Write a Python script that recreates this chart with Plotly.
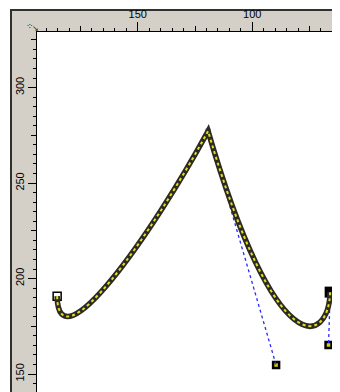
import plotly.graph_objects as go

# ---- data (document units as read from the rulers) ----
node_x = [185.2, 119.3, 66.0]
node_y = [190.8, 277.2, 192.9]
handle_out_x = [184.8, 89.6]      # outgoing handle of node i (segment i)
handle_out_y = [153.1, 154.7]
handle_in_x = [143.8, 66.7]       # incoming handle of node i+1 (segment i)
handle_in_y = [223.3, 165.2]
x_ticks_major = [150, 100]
y_ticks_major = [150, 200, 250, 300]

X_RANGE = [194.0, 61.7]
Y_RANGE = [140.6, 329.1]

# page body has an 8px margin; the figure is sized so the canvas lands where it should
OFF = 8
W, H = 340 - OFF, 392 - OFF
ML, MT = 37 - OFF, 32 - OFF
PW, PH = W - ML, H - MT


def xp(px):  # px in window coordinates -> paper
    return (px - OFF - ML) / PW


def yp(py):
    return (H - (py - OFF)) / PH


path = f"M {node_x[0]},{node_y[0]}"
for i in range(len(node_x) - 1):
    path += (f" C {handle_out_x[i]},{handle_out_y[i]} {handle_in_x[i]},{handle_in_y[i]}"
             f" {node_x[i+1]},{node_y[i+1]}")

GRAY = "#d4d0c8"
DARK = "#303030"

shapes = [
    # ruler backgrounds
    dict(type="rect", xref="paper", yref="paper", x0=xp(11), x1=xp(340), y0=yp(10), y1=yp(32),
         fillcolor=GRAY, line=dict(width=0), layer="below"),
    dict(type="rect", xref="paper", yref="paper", x0=xp(11), x1=xp(37), y0=yp(32), y1=yp(392),
         fillcolor=GRAY, line=dict(width=0), layer="below"),
    # outer frame
    dict(type="line", xref="paper", yref="paper", x0=xp(11), x1=xp(11), y0=yp(9), y1=yp(392),
         line=dict(color=DARK, width=2), layer="below"),
    dict(type="line", xref="paper", yref="paper", x0=xp(10), x1=xp(340), y0=yp(10), y1=yp(10),
         line=dict(color=DARK, width=2), layer="below"),
    # handle lines (the peak's one runs under the curve near the node)
    dict(type="line", xref="x", yref="y", x0=node_x[1], y0=node_y[1], x1=handle_out_x[1], y1=handle_out_y[1],
         line=dict(color="#2828ff", width=1.3, dash="dot"), layer="above"),
    dict(type="line", xref="x", yref="y", x0=node_x[2], y0=node_y[2], x1=handle_in_x[1], y1=handle_in_y[1],
         line=dict(color="#2828ff", width=1.3, dash="dot"), layer="above"),
    # the path: dark stroke with yellow dashes
    dict(type="path", xref="x", yref="y", path=path, line=dict(color="#2b2b24", width=5.5), layer="above"),
    dict(type="path", xref="x", yref="y", path=path, line=dict(color="#e6dc1e", width=2, dash="3px,3px"),
         layer="above"),
]

fig = go.Figure()

# handles
fig.add_trace(go.Scatter(
    x=[handle_out_x[1], handle_in_x[1]], y=[handle_out_y[1], handle_in_y[1]],
    mode="markers", hoverinfo="skip",
    marker=dict(symbol="square", size=6, color="#d8d000", line=dict(color="black", width=2.5))))
# start node (hollow)
fig.add_trace(go.Scatter(
    x=[node_x[0]], y=[node_y[0]], mode="markers", hoverinfo="skip",
    marker=dict(symbol="square", size=8, color="white", line=dict(color="black", width=1.5))))
# peak node
fig.add_trace(go.Scatter(
    x=[node_x[1]], y=[node_y[1]], mode="markers", hoverinfo="skip",
    marker=dict(symbol="square", size=5, color="#555555", line=dict(width=0))))
# end node (selected)
fig.add_trace(go.Scatter(
    x=[node_x[2]], y=[node_y[2]], mode="markers", hoverinfo="skip",
    marker=dict(symbol="square", size=11, color="black", line=dict(width=0))))

tickfont = dict(family="Liberation Sans", size=11, color="black")

fig.update_layout(
    width=W, height=H, autosize=False,
    margin=dict(l=ML, r=0, t=MT, b=0, pad=0),
    paper_bgcolor="white", plot_bgcolor="white",
    showlegend=False,
    shapes=shapes,
    xaxis=dict(range=X_RANGE, side="top", showgrid=False, zeroline=False,
               showline=True, linecolor="black", linewidth=1, mirror=False,
               tickmode="array", tickvals=x_ticks_major, ticks="outside", ticklen=9,
               tickcolor="black", tickwidth=1, tickfont=tickfont,
               minor=dict(dtick=5, tick0=0, ticks="outside", ticklen=3, tickcolor="black", tickwidth=1,
                          showgrid=False),
               fixedrange=True),
    xaxis2=dict(range=X_RANGE, side="top", overlaying="x", showgrid=False, zeroline=False,
                showticklabels=False, tick0=0, dtick=25, ticks="outside", ticklen=5,
                tickcolor="black", tickwidth=1),
    yaxis=dict(range=Y_RANGE, showgrid=False, zeroline=False,
               showline=True, linecolor="black", linewidth=1,
               tickmode="array", tickvals=y_ticks_major, ticks="outside", ticklen=8,
               tickcolor="black", tickwidth=1, tickfont=tickfont, tickangle=-90,
               minor=dict(dtick=5, tick0=0, ticks="outside", ticklen=3, tickcolor="black", tickwidth=1,
                          showgrid=False),
               fixedrange=True),
    yaxis2=dict(range=Y_RANGE, overlaying="y", showgrid=False, zeroline=False,
                showticklabels=False, tick0=0, dtick=25, ticks="outside", ticklen=5,
                tickcolor="black", tickwidth=1),
)

# dummy invisible trace to activate overlay axes
fig.add_trace(go.Scatter(x=[None], y=[None], xaxis="x2", yaxis="y2", hoverinfo="skip"))

# corner icon
fig.add_annotation(xref="paper", yref="paper", x=xp(24), y=yp(19), text="⁘", showarrow=False,
                   font=dict(size=9, color="#333333", family="DejaVu Sans"))
fig.add_annotation(xref="paper", yref="paper", x=xp(30), y=yp(22), text="↘", showarrow=False,
                   font=dict(size=8, color="#222222", family="DejaVu Sans"))

fig.write_html("out.html")
